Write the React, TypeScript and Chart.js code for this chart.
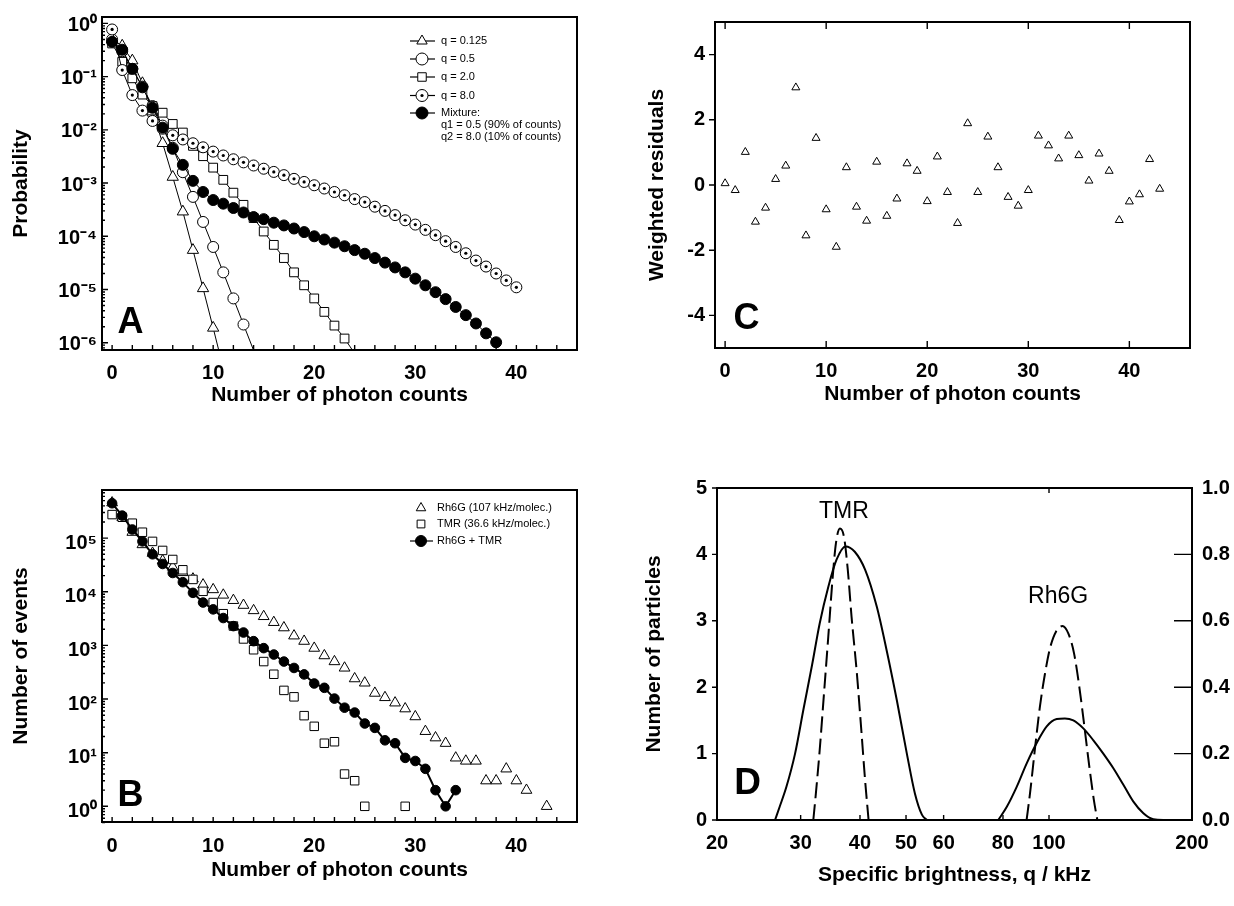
import React, { useEffect, useRef } from "react";
import { Chart, registerables } from "chart.js";

Chart.register(...registerables);

const FONT = "'Liberation Sans', Arial, Helvetica, sans-serif";
Chart.defaults.font.family = FONT;
Chart.defaults.color = "#000";

// ---------------- shared categories ----------------
const photonCounts = [0, 1, 2, 3, 4, 5, 6, 7, 8, 9, 10, 11, 12, 13, 14, 15, 16, 17, 18, 19, 20, 21, 22, 23, 24, 25, 26, 27, 28, 29, 30, 31, 32, 33, 34, 35, 36, 37, 38, 39, 40, 41, 42, 43];
const countTicks = [0, 10, 20, 30, 40];
const countTickLabels = ["0", "10", "20", "30", "40"];

// ---------------- Panel A: probability ----------------
const aQ0125 = [0.5, 0.38, 0.2, 0.075, 0.022, 0.0056, 0.0013, 2.9e-4, 5.5e-5, 1.05e-5, 1.9e-6, 3.3e-7];
const aQ05 = [0.5, 0.3, 0.14, 0.065, 0.028, 0.012, 0.0046, 0.0016, 5.5e-4, 1.86e-4, 6.3e-5, 2.1e-5, 6.8e-6, 2.2e-6, 7.2e-7];
const aQ2 = [0.42, 0.19, 0.093, 0.046, 0.028, 0.021, 0.0129, 0.0089, 0.005, 0.0032, 0.00195, 0.00115, 6.6e-4, 3.9e-4, 2.2e-4, 1.23e-4, 6.9e-5, 3.9e-5, 2.1e-5, 1.2e-5, 6.8e-6, 3.8e-6, 2.1e-6, 1.2e-6, 6.3e-7];
const aQ8 = [0.77, 0.133, 0.045, 0.023, 0.0147, 0.0105, 0.0079, 0.0066, 0.0056, 0.0047, 0.0039, 0.0033, 0.0028, 0.00245, 0.00214, 0.00186, 0.00162, 0.00141, 0.0012, 0.00105, 9.1e-4, 7.9e-4, 6.8e-4, 5.9e-4, 5.0e-4, 4.4e-4, 3.6e-4, 3.0e-4, 2.5e-4, 2.0e-4, 1.66e-4, 1.32e-4, 1.05e-4, 8.1e-5, 6.3e-5, 4.8e-5, 3.5e-5, 2.7e-5, 2.0e-5, 1.48e-5, 1.1e-5];
const aMix = [0.45, 0.32, 0.14, 0.063, 0.026, 0.011, 0.0044, 0.0022, 0.0011, 6.8e-4, 4.8e-4, 4.1e-4, 3.4e-4, 2.8e-4, 2.3e-4, 2.1e-4, 1.8e-4, 1.6e-4, 1.4e-4, 1.2e-4, 1.0e-4, 8.7e-5, 7.6e-5, 6.5e-5, 5.5e-5, 4.7e-5, 3.9e-5, 3.2e-5, 2.6e-5, 2.1e-5, 1.6e-5, 1.2e-5, 8.9e-6, 6.6e-6, 4.7e-6, 3.3e-6, 2.3e-6, 1.5e-6, 1.02e-6];
const aYRange = [7.3e-7, 1.32];
const aYTicks = [1e-6, 1e-5, 1e-4, 1e-3, 1e-2, 1e-1, 1];
const aYTickLabels = ["10⁻⁶", "10⁻⁵", "10⁻⁴", "10⁻³", "10⁻²", "10⁻¹", "10⁰"];
const aLegendLabels = ["q = 0.125", "q = 0.5", "q = 2.0", "q = 8.0"];
const aMixtureLabel = ["Mixture:", "q1 = 0.5 (90% of counts)", "q2 = 8.0 (10% of counts)"];

// ---------------- Panel B: number of events ----------------
const bRh6G = [457000, 245000, 129000, 75900, 52500, 38000, 28800, 22900, 17400, 13500, 11000, 8710, 6920, 5620, 4470, 3470, 2690, 2140, 1510, 1200, 890, 645, 500, 380, 240, 200, 129, 107, 85, 66, 47, 25, 19, 15, 8, 7, 7, 3, 3, 5, 3, 2, null, 1];
const bTMR = [275000, 245000, 190000, 129000, 87000, 59000, 40000, 25700, 17000, 10200, 6300, 3900, 2300, 1320, 830, 500, 290, 145, 110, 49, 31, 15, 16, 4, 3, 1, null, null, null, 1];
const bMix = [447000, 263000, 145000, 87000, 50000, 33000, 22400, 15100, 9550, 6300, 4700, 3240, 2290, 1740, 1200, 890, 676, 500, 380, 288, 195, 162, 102, 69, 56, 35, 29, 17, 15, 8, 7, 5, 2, 1, 2];
const bYRange = [0.51, 7.9e5];
const bYTicks = [1, 10, 100, 1e3, 1e4, 1e5];
const bYTickLabels = ["10⁰", "10¹", "10²", "10³", "10⁴", "10⁵"];
const bLegendLabels = ["Rh6G (107 kHz/molec.)", "TMR (36.6 kHz/molec.)", "Rh6G + TMR"];

// ---------------- Panel C: weighted residuals ----------------
const cResiduals = [0.05, -0.16, 1.01, -1.13, -0.7, 0.18, 0.59, 2.99, -1.55, 1.44, -0.75, -1.9, 0.54, -0.67, -1.1, 0.71, -0.95, -0.42, 0.66, 0.43, -0.5, 0.87, -0.22, -1.17, 1.89, -0.22, 1.48, 0.54, -0.37, -0.64, -0.16, 1.51, 1.21, 0.81, 1.51, 0.91, 0.13, 0.96, 0.43, -1.08, -0.51, -0.29, 0.79, -0.12];
const cYTicks = [-4, -2, 0, 2, 4];
const cYTickLabels = ["-4", "-2", "0", "2", "4"];

// ---------------- Panel D: brightness distributions ----------------
const dTmrSolidQ = [26.5, 27.1, 28.0, 29.2, 30.4, 31.7, 32.9, 34.3, 35.7, 37.3, 39.0, 41.0, 43.4, 45.5, 47.8, 50.2, 52.2, 54.0, 55.3];
const dTmrSolidN = [0, 0.2, 0.5, 1.0, 1.66, 2.33, 2.96, 3.51, 3.92, 4.12, 4.04, 3.77, 3.21, 2.56, 1.81, 1.0, 0.4, 0.08, 0];
const dTmrDashQ = [31.9, 32.3, 32.9, 33.6, 34.3, 35.0, 35.6, 36.3, 37.0, 37.7, 38.4, 39.4, 40.3, 41.0, 41.7];
const dTmrDashN = [0, 0.4, 1.05, 1.91, 2.76, 3.61, 4.17, 4.39, 4.27, 3.77, 3.06, 2.21, 1.31, 0.6, 0];
const dRhSolidQ = [78.2, 81.5, 85.5, 89.7, 94.2, 98.9, 103.8, 108, 112.5, 118.1, 124.0, 130.1, 136.6, 143.4, 150.4, 158, 165.8, 174, 200];
const dRhSolidN = [0, 0.2, 0.5, 0.85, 1.16, 1.41, 1.52, 1.53, 1.5, 1.38, 1.2, 1.0, 0.78, 0.53, 0.28, 0.1, 0.01, 0, 0];
const dRhDashQ = [89.7, 91.2, 93.5, 95.7, 98.1, 100.5, 103.5, 106.7, 109.8, 112.9, 115.8, 118.7, 121.6, 124.3, 126.4];
const dRhDashN = [0, 0.4, 1.1, 1.71, 2.21, 2.59, 2.84, 2.92, 2.81, 2.51, 2.01, 1.41, 0.8, 0.3, 0];
const dXTicks = [20, 30, 40, 50, 60, 80, 100, 200];
const dXTickLabels = ["20", "30", "40", "50", "60", "80", "100", "200"];
const dYTicks = [0, 1, 2, 3, 4, 5];
const dYTickLabels = ["0", "1", "2", "3", "4", "5"];
const dY2Ticks = [0, 0.2, 0.4, 0.6, 0.8, 1.0];
const dY2TickLabels = ["0.0", "0.2", "0.4", "0.6", "0.8", "1.0"];

// ---------------- helpers ----------------
const W = 617;
const H = 453;

function minorLog(lo: number, hi: number) {
  const out: number[] = [];
  for (let e = lo; e <= hi; e++) for (let m = 2; m <= 9; m++) out.push(m * Math.pow(10, e));
  return out;
}
const evenCounts = [0, 2, 4, 6, 8, 10, 12, 14, 16, 18, 20, 22, 24, 26, 28, 30, 32, 34, 36, 38, 40, 42, 44];

function setTicks(values: number[]) {
  return (s: any) => {
    s.ticks = values.map((v) => ({ value: v }));
  };
}
function labelsFrom(labels: string[]) {
  return (_v: any, i: number) => labels[i];
}

function drawMarker(ctx: CanvasRenderingContext2D, kind: string, x: number, y: number, r: number) {
  ctx.save();
  ctx.strokeStyle = "#000";
  ctx.lineWidth = 1;
  ctx.beginPath();
  if (kind === "triangle") {
    ctx.moveTo(x, y - r);
    ctx.lineTo(x + r * 0.866, y + r / 2);
    ctx.lineTo(x - r * 0.866, y + r / 2);
    ctx.closePath();
  } else if (kind === "rect") {
    const s = r * Math.SQRT1_2;
    ctx.rect(x - s, y - s, 2 * s, 2 * s);
  } else {
    ctx.arc(x, y, r, 0, Math.PI * 2);
  }
  ctx.fillStyle = kind === "filled" ? "#000" : "#fff";
  ctx.fill();
  ctx.stroke();
  if (kind === "circledot") {
    ctx.beginPath();
    ctx.arc(x, y, 1.6, 0, Math.PI * 2);
    ctx.fillStyle = "#000";
    ctx.fill();
  }
  ctx.restore();
}

type TickGroup = { scale: string; edge: string; values: number[]; len: number; out?: boolean };

function framePlugin(groups: TickGroup[], lw: number) {
  return {
    id: "frameTicks",
    afterDraw(chart: any) {
      const { ctx, chartArea: a } = chart;
      ctx.save();
      ctx.strokeStyle = "#000";
      ctx.lineWidth = lw;
      ctx.strokeRect(a.left, a.top, a.right - a.left, a.bottom - a.top);
      ctx.lineWidth = 1.4;
      ctx.beginPath();
      for (const g of groups) {
        const s = chart.scales[g.scale];
        const d = g.out ? -1 : 1;
        const horiz = g.edge === "bottom" || g.edge === "top";
        for (const v of g.values) {
          const p = s.getPixelForValue(v);
          if (horiz && (p < a.left - 0.5 || p > a.right + 0.5)) continue;
          if (!horiz && (p < a.top - 0.5 || p > a.bottom + 0.5)) continue;
          if (g.edge === "bottom") {
            ctx.moveTo(p, a.bottom);
            ctx.lineTo(p, a.bottom - d * g.len);
          } else if (g.edge === "top") {
            ctx.moveTo(p, a.top);
            ctx.lineTo(p, a.top + d * g.len);
          } else if (g.edge === "left") {
            ctx.moveTo(a.left, p);
            ctx.lineTo(a.left + d * g.len, p);
          } else {
            ctx.moveTo(a.right, p);
            ctx.lineTo(a.right - d * g.len, p);
          }
        }
      }
      ctx.stroke();
      ctx.restore();
    },
  };
}

type LegendItem = { kind: string; line: boolean; text: string[] };
function legendPlugin(items: LegendItem[], rows: number[], markerX: number, lineX0: number, lineX1: number, textX: number, r: number, gap: number) {
  return {
    id: "customLegend",
    afterDraw(chart: any) {
      const ctx = chart.ctx;
      ctx.save();
      ctx.font = `11px ${FONT}`;
      ctx.textBaseline = "middle";
      ctx.textAlign = "left";
      items.forEach((it, i) => {
        const y = rows[i];
        if (it.line) {
          ctx.beginPath();
          ctx.strokeStyle = "#000";
          ctx.lineWidth = 1.2;
          ctx.moveTo(lineX0, y);
          ctx.lineTo(lineX1, y);
          ctx.stroke();
        }
        drawMarker(ctx, it.kind, markerX, y, r);
        ctx.fillStyle = "#000";
        it.text.forEach((t, k) => ctx.fillText(t, textX, y + k * gap));
      });
      ctx.restore();
    },
  };
}

type TextItem = { text: string; font: string; pos: (c: any) => number[] };
function textPlugin(items: TextItem[]) {
  return {
    id: "annotText",
    afterDraw(chart: any) {
      const ctx = chart.ctx;
      ctx.save();
      ctx.fillStyle = "#000";
      ctx.textAlign = "center";
      ctx.textBaseline = "middle";
      for (const it of items) {
        const [x, y] = it.pos(chart);
        ctx.font = it.font;
        ctx.fillText(it.text, x, y);
      }
      ctx.restore();
    },
  };
}

const tickFont = (size: number) => ({ size, weight: "bold" as const, family: FONT });
const titleCfg = (text: string) => ({ display: true, text, color: "#000", font: { size: 21, weight: "bold" as const, family: FONT }, padding: { top: 4, bottom: 4 } });
const noGrid = { display: false, drawTicks: false };

function pts(values: (number | null)[]) {
  return values.map((v, i) => ({ x: photonCounts[i], y: v }));
}

const common = {
  responsive: false,
  animation: false as const,
  events: [] as any[],
};

// ---------------- Panel configs ----------------
function configA(): any {
  const minY = aYRange[0];
  const rad = (r: number) => (c: any) => (c.raw && c.raw.y < minY ? 0 : r);
  const line = { showLine: true, borderColor: "#000", borderWidth: 1, pointBorderColor: "#000", pointBorderWidth: 1 };
  return {
    type: "scatter",
    data: {
      datasets: [
        { ...line, label: aMixtureLabel[0], data: pts(aMix), pointStyle: "circle", pointRadius: rad(5.5), pointBackgroundColor: "#000", order: 0 },
        { label: "dot", data: pts(aQ8), showLine: false, pointStyle: "circle", pointRadius: 1.6, pointBackgroundColor: "#000", pointBorderWidth: 0, order: 1 },
        { ...line, label: aLegendLabels[3], data: pts(aQ8), pointStyle: "circle", pointRadius: rad(5.5), pointBackgroundColor: "#fff", order: 2 },
        { ...line, label: aLegendLabels[2], data: pts(aQ2), pointStyle: "rect", pointRadius: rad(6.2), pointBackgroundColor: "#fff", order: 3 },
        { ...line, label: aLegendLabels[1], data: pts(aQ05), pointStyle: "circle", pointRadius: rad(5.5), pointBackgroundColor: "#fff", order: 4 },
        { ...line, label: aLegendLabels[0], data: pts(aQ0125), pointStyle: "triangle", pointRadius: rad(6.5), pointBackgroundColor: "#fff", order: 5 },
      ],
    },
    options: {
      ...common,
      layout: { padding: { left: 5, top: 17, right: 40, bottom: 41 } },
      plugins: { legend: { display: false }, tooltip: { enabled: false } },
      scales: {
        x: {
          type: "linear", min: -1, max: 46,
          afterBuildTicks: setTicks(countTicks), afterFit: (s: any) => { s.height = 62; },
          grid: noGrid, border: { display: false },
          ticks: { font: tickFont(20), padding: 11, color: "#000", callback: labelsFrom(countTickLabels), autoSkip: false, maxRotation: 0 },
          title: titleCfg("Number of photon counts"),
        },
        y: {
          type: "logarithmic", min: aYRange[0], max: aYRange[1],
          afterBuildTicks: setTicks(aYTicks), afterFit: (s: any) => { s.width = 97; },
          grid: noGrid, border: { display: false },
          ticks: { font: tickFont(20), padding: 5, labelOffset: 2, color: "#000", callback: labelsFrom(aYTickLabels), autoSkip: false },
          title: titleCfg("Probability"),
        },
      },
    },
    plugins: [
      framePlugin([
        { scale: "x", edge: "bottom", values: evenCounts, len: 5 },
        { scale: "y", edge: "left", values: aYTicks, len: 6 },
        { scale: "y", edge: "left", values: minorLog(-7, 0), len: 3 },
      ], 2),
      legendPlugin(
        [
          { kind: "triangle", line: true, text: [aLegendLabels[0]] },
          { kind: "circle", line: true, text: [aLegendLabels[1]] },
          { kind: "rect", line: true, text: [aLegendLabels[2]] },
          { kind: "circledot", line: true, text: [aLegendLabels[3]] },
          { kind: "filled", line: true, text: aMixtureLabel },
        ],
        [41, 59, 77, 95.5, 113], 422, 410, 435, 441, 6, 12
      ),
      textPlugin([{ text: "A", font: `bold 36px ${FONT}`, pos: (c) => [c.chartArea.left + 28.5, c.chartArea.bottom - 27] }]),
    ],
  };
}

function configB(): any {
  const mk = { pointBorderColor: "#000", pointBorderWidth: 1 };
  return {
    type: "scatter",
    data: {
      datasets: [
        { ...mk, label: bLegendLabels[2], data: pts(bMix), showLine: true, borderColor: "#000", borderWidth: 2, pointStyle: "circle", pointRadius: 4.8, pointBackgroundColor: "#000", order: 0 },
        { ...mk, label: bLegendLabels[1], data: pts(bTMR), showLine: false, pointStyle: "rect", pointRadius: 6, pointBackgroundColor: "#fff", order: 1 },
        { ...mk, label: bLegendLabels[0], data: pts(bRh6G), showLine: false, pointStyle: "triangle", pointRadius: 6.2, pointBackgroundColor: "#fff", order: 2 },
      ],
    },
    options: {
      ...common,
      layout: { padding: { left: 5, top: 37, right: 40, bottom: 19 } },
      plugins: { legend: { display: false }, tooltip: { enabled: false } },
      scales: {
        x: {
          type: "linear", min: -1, max: 46,
          afterBuildTicks: setTicks(countTicks), afterFit: (s: any) => { s.height = 65; },
          grid: noGrid, border: { display: false },
          ticks: { font: tickFont(20), padding: 12, color: "#000", callback: labelsFrom(countTickLabels), autoSkip: false, maxRotation: 0 },
          title: titleCfg("Number of photon counts"),
        },
        y: {
          type: "logarithmic", min: bYRange[0], max: bYRange[1],
          afterBuildTicks: setTicks(bYTicks), afterFit: (s: any) => { s.width = 97; },
          grid: noGrid, border: { display: false },
          ticks: { font: tickFont(20), padding: 5, labelOffset: 5, color: "#000", callback: labelsFrom(bYTickLabels), autoSkip: false },
          title: titleCfg("Number of events"),
        },
      },
    },
    plugins: [
      framePlugin([
        { scale: "x", edge: "bottom", values: evenCounts, len: 5 },
        { scale: "y", edge: "left", values: bYTicks, len: 6 },
        { scale: "y", edge: "left", values: minorLog(-1, 5), len: 3 },
      ], 2),
      legendPlugin(
        [
          { kind: "triangle", line: false, text: [bLegendLabels[0]] },
          { kind: "rect", line: false, text: [bLegendLabels[1]] },
          { kind: "filled", line: true, text: [bLegendLabels[2]] },
        ],
        [55, 71, 88], 421, 410, 433, 437, 5.5, 12
      ),
      textPlugin([{ text: "B", font: `bold 36px ${FONT}`, pos: (c) => [c.chartArea.left + 28.5, c.chartArea.bottom - 26] }]),
    ],
  };
}

function configC(): any {
  return {
    type: "scatter",
    data: {
      datasets: [
        { label: "Weighted residuals", data: pts(cResiduals), showLine: false, pointStyle: "triangle", pointRadius: 4.6, pointBackgroundColor: "#fff", pointBorderColor: "#000", pointBorderWidth: 1 },
      ],
    },
    options: {
      ...common,
      layout: { padding: { left: 24, top: 16, right: 44, bottom: 42 } },
      plugins: { legend: { display: false }, tooltip: { enabled: false } },
      scales: {
        x: {
          type: "linear", min: -1, max: 46,
          afterBuildTicks: setTicks(countTicks), afterFit: (s: any) => { s.height = 63; },
          grid: noGrid, border: { display: false },
          ticks: { font: tickFont(20), padding: 11, color: "#000", callback: labelsFrom(countTickLabels), autoSkip: false, maxRotation: 0 },
          title: titleCfg("Number of photon counts"),
        },
        y: {
          type: "linear", min: -5, max: 5,
          afterBuildTicks: setTicks(cYTicks), afterFit: (s: any) => { s.width = 74; },
          grid: noGrid, border: { display: false },
          ticks: { font: tickFont(20), padding: 10, color: "#000", callback: labelsFrom(cYTickLabels), autoSkip: false },
          title: titleCfg("Weighted residuals"),
        },
      },
    },
    plugins: [
      framePlugin([
        { scale: "x", edge: "top", values: countTicks, len: 7 },
        { scale: "x", edge: "bottom", values: countTicks, len: 7 },
        { scale: "y", edge: "left", values: cYTicks, len: 6, out: true },
      ], 2),
      textPlugin([{ text: "C", font: `bold 36px ${FONT}`, pos: (c) => [c.chartArea.left + 31.5, c.chartArea.bottom - 29] }]),
    ],
  };
}

function configD(): any {
  const curve = (q: number[], n: number[]) => q.map((v, i) => ({ x: v, y: n[i] }));
  const base = { showLine: true, borderColor: "#000", borderWidth: 2, pointRadius: 0, cubicInterpolationMode: "monotone" as const };
  return {
    type: "scatter",
    data: {
      datasets: [
        { ...base, label: "TMR", data: curve(dTmrSolidQ, dTmrSolidN) },
        { ...base, label: "TMR dashed", data: curve(dTmrDashQ, dTmrDashN), borderDash: [16, 6] },
        { ...base, label: "Rh6G", data: curve(dRhSolidQ, dRhSolidN) },
        { ...base, label: "Rh6G dashed", data: curve(dRhDashQ, dRhDashN), borderDash: [16, 6] },
      ],
    },
    options: {
      ...common,
      layout: { padding: { left: 21, top: 35, right: 0, bottom: 14 } },
      plugins: { legend: { display: false }, tooltip: { enabled: false } },
      scales: {
        x: {
          type: "logarithmic", min: 20, max: 200,
          afterBuildTicks: setTicks(dXTicks), afterFit: (s: any) => { s.height = 72; },
          grid: noGrid, border: { display: false },
          ticks: { font: tickFont(20), padding: 11, color: "#000", callback: labelsFrom(dXTickLabels), autoSkip: false, maxRotation: 0 },
          title: titleCfg("Specific brightness, q / kHz"),
        },
        y: {
          type: "linear", min: 0, max: 5, position: "left",
          afterBuildTicks: setTicks(dYTicks), afterFit: (s: any) => { s.width = 79; },
          grid: noGrid, border: { display: false },
          ticks: { font: tickFont(20), padding: 10, color: "#000", callback: labelsFrom(dYTickLabels), autoSkip: false },
          title: titleCfg("Number of particles"),
        },
        y2: {
          type: "linear", min: 0, max: 1, position: "right",
          afterBuildTicks: setTicks(dY2Ticks), afterFit: (s: any) => { s.width = 42; },
          grid: noGrid, border: { display: false },
          ticks: { font: tickFont(20), padding: 10, color: "#000", callback: labelsFrom(dY2TickLabels), autoSkip: false },
        },
      },
    },
    plugins: [
      framePlugin([
        { scale: "x", edge: "bottom", values: [30, 40, 50, 60, 80, 100], len: 5 },
        { scale: "x", edge: "top", values: [100], len: 5 },
        { scale: "y", edge: "left", values: dYTicks, len: 5, out: true },
        { scale: "y2", edge: "right", values: [0.2, 0.4, 0.6, 0.8], len: 18 },
      ], 2),
      textPlugin([
        { text: "D", font: `bold 37px ${FONT}`, pos: (c) => [c.chartArea.left + 30.5, c.chartArea.bottom - 36] },
        { text: "TMR", font: `23px ${FONT}`, pos: (c) => [c.scales.x.getPixelForValue(37), c.scales.y.getPixelForValue(4.64)] },
        { text: "Rh6G", font: `23px ${FONT}`, pos: (c) => [c.scales.x.getPixelForValue(104.5), c.scales.y.getPixelForValue(3.36)] },
      ]),
    ],
  };
}

function Panel({ make, left, top }: { make: () => any; left: number; top: number }) {
  const ref = useRef<HTMLCanvasElement>(null);
  useEffect(() => {
    const chart = new Chart(ref.current as HTMLCanvasElement, make());
    return () => chart.destroy();
  }, [make]);
  return (
    <canvas
      ref={ref}
      width={W}
      height={H}
      style={{ position: "absolute", left, top, width: W, height: H }}
    />
  );
}

export default function App() {
  return (
    <div style={{ position: "absolute", left: 0, top: 0, width: 1234, height: 906, background: "#fff", overflow: "hidden" }}>
      <Panel make={configA} left={0} top={0} />
      <Panel make={configC} left={617} top={0} />
      <Panel make={configB} left={0} top={453} />
      <Panel make={configD} left={617} top={453} />
    </div>
  );
}
